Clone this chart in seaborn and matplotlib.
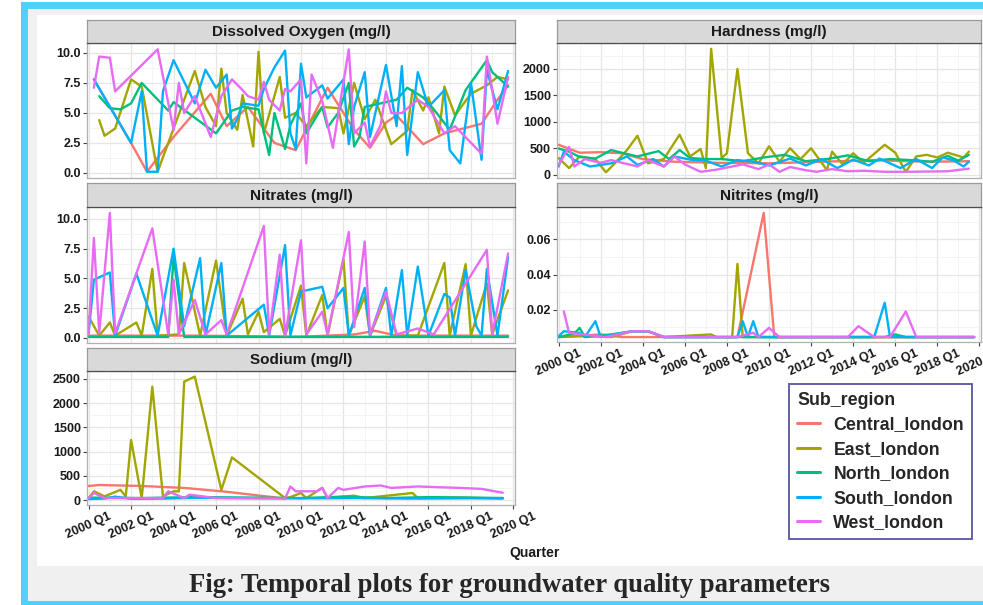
import pandas as pd
import matplotlib.pyplot as plt
from matplotlib.patches import Rectangle
from matplotlib.ticker import FormatStrFormatter
import seaborn as sns

# sub-regions and ggplot hue colours
regions = ["Central_london", "East_london", "North_london", "South_london", "West_london"]
colors = ["#F8766D", "#A3A500", "#00BF7D", "#00B0F6", "#E76BF3"]

# x axis: quarter index, 0 = 2000 Q1
quarter_ticks = [0, 8, 16, 24, 32, 40, 48, 56, 64, 72, 80]
quarter_labels = ["2000 Q1", "2002 Q1", "2004 Q1", "2006 Q1", "2008 Q1", "2010 Q1",
                  "2012 Q1", "2014 Q1", "2016 Q1", "2018 Q1", "2020 Q1"]

# Dissolved Oxygen (mg/l)
do_central_t = [1, 8, 11, 16, 23, 26, 30, 35, 39, 45, 50, 53, 56, 58, 63, 67, 74, 77, 79]
do_central = [7.8, 2.5, 0.1, 3.0, 6.6, 3.9, 5.5, 2.5, 1.9, 7.1, 3.6, 2.1, 4.2, 4.8, 2.4, 3.3, 4.1, 6.1, 7.3]
do_east_t = [2, 3, 5, 8, 10, 13, 20, 22, 24, 25, 26, 28, 29, 31, 32, 33, 36, 37, 39, 41,
             44, 47, 48, 50, 52, 54, 57, 60, 61, 63, 64, 66, 67, 69, 72, 75, 77, 79]
do_east = [4.4, 3.1, 3.7, 7.8, 7.2, 0.1, 8.5, 5.5, 3.9, 8.7, 5.0, 3.6, 6.5, 2.2, 10.1, 3.3, 8.0, 4.6, 5.0, 3.9,
           5.5, 5.4, 3.3, 7.5, 4.5, 6.1, 2.4, 3.5, 6.9, 5.2, 6.3, 3.3, 7.2, 4.8, 6.6, 7.3, 8.0, 7.8]
do_north_t = [2, 4, 6, 8, 10, 15, 16, 24, 27, 29, 32, 34, 35, 37, 38, 40, 41, 44, 45, 47,
              49, 50, 51, 52, 55, 58, 60, 63, 65, 68, 71, 75, 76, 79]
do_north = [6.4, 5.4, 5.3, 5.8, 7.5, 5.2, 5.9, 3.3, 5.2, 5.5, 5.3, 1.5, 5.0, 2.0, 4.0, 5.8, 3.3, 5.5, 3.8, 5.0,
            7.5, 2.2, 3.0, 5.5, 5.8, 6.1, 7.1, 6.3, 5.3, 3.6, 6.9, 9.4, 8.4, 7.2]
do_south_t = [1, 8, 10, 11, 13, 14, 16, 20, 22, 24, 26, 27, 28, 29, 32, 33, 35, 37, 38, 39,
              40, 41, 44, 45, 48, 49, 50, 52, 53, 56, 58, 59, 60, 62, 64, 67, 68, 70, 72, 74,
              75, 77, 79]
do_south = [7.8, 2.5, 6.8, 0.1, 0.1, 6.8, 9.4, 5.8, 8.6, 7.1, 8.2, 3.7, 4.5, 5.8, 5.6, 7.0, 8.8, 10.2, 3.3, 2.0,
            9.1, 6.3, 7.3, 6.2, 7.8, 2.4, 5.5, 8.4, 3.0, 9.0, 3.9, 8.9, 1.5, 8.4, 5.5, 6.9, 1.9, 0.8, 7.5, 1.1,
            8.6, 5.3, 8.5]
do_west_t = [1, 2, 4, 5, 13, 16, 17, 18, 20, 23, 25, 27, 29, 30, 32, 33, 34, 36, 37, 38,
             40, 41, 42, 44, 46, 49, 50, 52, 53, 55, 56, 57, 59, 62, 64, 67, 69, 74, 75, 77, 79]
do_west = [7.1, 9.7, 9.6, 6.8, 10.3, 3.6, 7.5, 5.0, 6.4, 3.0, 6.4, 7.8, 6.9, 6.4, 6.1, 7.6, 6.1, 5.2, 7.0, 6.8,
           7.8, 0.8, 8.2, 6.0, 2.1, 10.3, 3.3, 4.2, 2.2, 4.0, 6.8, 5.0, 5.0, 6.1, 5.5, 3.3, 3.9, 1.6, 9.7, 4.1, 8.0]

# Hardness (mg/l)
hard_central_t = [0, 4, 8, 12, 16, 22, 30, 40, 50, 60, 70, 78]
hard_central = [570, 420, 430, 410, 300, 250, 230, 220, 250, 280, 250, 260]
hard_east_t = [0, 2, 4, 7, 9, 11, 13, 15, 17, 20, 23, 25, 27, 28, 29, 31, 32, 34, 36, 38,
               40, 42, 44, 46, 48, 51, 52, 54, 56, 58, 62, 64, 66, 68, 70, 72, 74, 77, 78]
hard_east = [320, 130, 350, 300, 50, 250, 470, 740, 220, 300, 760, 350, 490, 130, 2380, 320, 410, 2000, 410, 220,
             540, 250, 505, 300, 505, 95, 440, 200, 410, 230, 570, 420, 60, 350, 380, 330, 420, 330, 440]
hard_north_t = [0, 2, 4, 7, 10, 12, 15, 19, 21, 23, 25, 28, 31, 35, 39, 43, 47, 51, 55, 59, 63, 67, 71, 74, 76, 78]
hard_north = [500, 440, 340, 310, 470, 420, 350, 450, 300, 470, 320, 300, 300, 260, 330, 380, 260, 300, 370, 260,
              300, 280, 250, 360, 270, 380]
hard_south_t = [0, 1, 3, 6, 10, 13, 15, 18, 20, 22, 25, 28, 31, 34, 37, 40, 44, 47, 50, 53,
                56, 59, 61, 65, 68, 71, 73, 75, 77, 78]
hard_south = [160, 440, 280, 160, 220, 350, 190, 300, 160, 350, 290, 270, 160, 280, 250, 180, 310, 180, 300, 130,
              290, 180, 310, 130, 300, 130, 330, 280, 160, 250]
hard_west_t = [0, 2, 3, 5, 8, 10, 15, 17, 20, 22, 24, 27, 30, 33, 35, 38, 40, 42, 44, 47,
               49, 52, 55, 58, 62, 66, 70, 74, 78]
hard_west = [190, 530, 160, 300, 230, 280, 160, 280, 160, 350, 200, 60, 100, 160, 200, 110, 200, 60, 150, 90,
             60, 110, 70, 80, 60, 60, 65, 70, 120]

# Nitrates (mg/l)
nit_central_t = [0, 20, 40, 50, 54, 58, 79]
nit_central = [0.2, 0.2, 0.1, 0.3, 0.6, 0.2, 0.2]
nit_east_t = [0, 2, 4, 5, 9, 10, 12, 13, 17, 18, 21, 24, 26, 29, 30, 32, 33, 36, 37, 40,
              41, 44, 45, 48, 49, 52, 53, 56, 58, 62, 67, 68, 71, 72, 75, 76, 79]
nit_east = [1.8, 0.2, 1.3, 0.2, 1.3, 0.2, 5.8, 0.2, 0.3, 6.3, 0.2, 6.5, 0.2, 3.3, 0.3, 2.2, 0.5, 1.6, 0.2, 4.4,
            0.2, 3.6, 0.2, 6.6, 0.2, 3.5, 0.2, 3.5, 0.2, 0.2, 6.3, 0.2, 6.2, 0.2, 4.6, 0.3, 4.0]
nit_north_t = [0, 15, 16, 18, 40, 79]
nit_north = [0.1, 0.1, 6.8, 0.1, 0.1, 0.1]
nit_south_t = [0, 1, 4, 5, 9, 13, 16, 18, 21, 22, 25, 26, 33, 34, 37, 38, 40, 44, 45, 48,
               49, 52, 53, 56, 57, 59, 60, 62, 64, 67, 68, 69, 71, 73, 74, 75, 77, 79]
nit_south = [0.4, 4.9, 5.5, 0.2, 5.4, 0.2, 7.5, 1.0, 6.7, 0.2, 6.3, 0.2, 2.8, 0.2, 7.8, 0.2, 3.9, 4.3, 2.5, 4.2,
             0.2, 4.2, 0.2, 4.2, 0.2, 5.7, 0.2, 6.0, 0.2, 3.7, 3.4, 0.2, 5.7, 1.0, 0.2, 5.8, 0.2, 6.8]
nit_west_t = [0, 1, 2, 4, 5, 12, 15, 16, 17, 20, 22, 25, 26, 33, 34, 36, 37, 40, 41, 44,
              45, 49, 50, 52, 53, 56, 58, 62, 65, 75, 76, 79]
nit_west = [0.4, 8.4, 0.4, 10.5, 0.4, 9.2, 0.3, 4.9, 0.3, 3.2, 0.3, 1.5, 0.3, 9.4, 0.3, 7.0, 0.2, 8.2, 0.3, 2.2,
            0.3, 8.9, 0.9, 8.1, 0.3, 3.9, 0.3, 0.8, 0.3, 7.4, 0.3, 7.1]

# Nitrites (mg/l)
nitr_central_t = [0, 8, 12, 20, 34, 39, 41, 79]
nitr_central = [0.0045, 0.006, 0.0045, 0.0045, 0.0045, 0.075, 0.0045, 0.0045]
nitr_east_t = [0, 5, 10, 14, 17, 20, 29, 30, 33, 34, 35, 79]
nitr_east = [0.0045, 0.005, 0.0045, 0.0078, 0.0078, 0.0045, 0.006, 0.0045, 0.0045, 0.046, 0.0045, 0.0045]
nitr_north_t = [0, 3, 4, 5, 10, 14, 17, 20, 62, 64, 66, 79]
nitr_north = [0.0045, 0.0065, 0.0097, 0.0045, 0.006, 0.0078, 0.0078, 0.0045, 0.0045, 0.006, 0.0045, 0.0045]
nitr_south_t = [0, 1, 4, 5, 7, 8, 14, 17, 20, 34, 35, 36, 37, 38, 60, 62, 63, 79]
nitr_south = [0.005, 0.0078, 0.0069, 0.0045, 0.0135, 0.0045, 0.0078, 0.0078, 0.0045, 0.0045, 0.0135, 0.0045,
              0.0135, 0.0045, 0.0045, 0.024, 0.0045, 0.0045]
nitr_west_t = [1, 2, 9, 14, 17, 20, 34, 37, 38, 40, 42, 55, 57, 60, 63, 66, 68, 79]
nitr_west = [0.019, 0.0069, 0.0045, 0.0078, 0.0078, 0.0045, 0.0045, 0.0069, 0.0045, 0.0097, 0.0045, 0.0045,
             0.0107, 0.0045, 0.0045, 0.019, 0.0045, 0.0045]

# Sodium (mg/l)
sod_central_t = [0, 2, 10, 18, 26, 37]
sod_central = [290, 310, 290, 250, 170, 30]
sod_east_t = [0, 1, 3, 6, 7, 8, 10, 12, 14, 16, 17, 18, 20, 25, 27, 37, 38, 40, 41, 44, 45, 50, 52, 61, 62, 70, 78]
sod_east = [40, 180, 75, 210, 75, 1240, 40, 2340, 75, 180, 180, 2445, 2550, 210, 880, 40, 60, 145, 40, 250,
            40, 90, 40, 145, 40, 50, 30]
sod_north_t = [0, 10, 20, 30, 40, 48, 56, 64, 72, 78]
sod_north = [50, 40, 60, 50, 40, 70, 40, 60, 50, 40]
sod_south_t = [0, 3, 5, 8, 14, 20, 30, 40, 50, 60, 70, 78]
sod_south = [20, 30, 70, 25, 30, 45, 40, 35, 40, 30, 35, 40]
sod_west_t = [0, 1, 3, 14, 15, 18, 19, 24, 37, 38, 39, 43, 44, 45, 47, 48, 52, 55, 57, 62, 67, 70, 74, 78]
sod_west = [40, 145, 40, 40, 180, 40, 110, 40, 30, 280, 180, 180, 250, 40, 250, 210, 280, 300, 250, 280,
            260, 250, 230, 150]

W, H = 983, 605


def box(x0, y0, x1, y1):
    # pixel box (top-left origin) -> figure fraction rect
    return [x0 / W, 1 - y1 / H, (x1 - x0) / W, (y1 - y0) / H]


def long_frame(series):
    rows = []
    for region, (t, v) in zip(regions, series):
        rows += [{"Quarter": q, "value": y, "Sub_region": region} for q, y in zip(t, v)]
    return pd.DataFrame(rows)


panels = [
    ("Dissolved Oxygen (mg/l)",
     [(do_central_t, do_central), (do_east_t, do_east), (do_north_t, do_north),
      (do_south_t, do_south), (do_west_t, do_west)],
     (87, 43, 515, 178), (-0.42, 10.83), [0, 2.5, 5, 7.5, 10], "%.1f", False),
    ("Hardness (mg/l)",
     [(hard_central_t, hard_central), (hard_east_t, hard_east), (hard_north_t, hard_north),
      (hard_south_t, hard_south), (hard_west_t, hard_west)],
     (557, 43, 981, 178), (-57, 2490), [0, 500, 1000, 1500, 2000], "%d", False),
    ("Nitrates (mg/l)",
     [(nit_central_t, nit_central), (nit_east_t, nit_east), (nit_north_t, nit_north),
      (nit_south_t, nit_south), (nit_west_t, nit_west)],
     (87, 207, 515, 343), (-0.42, 11.0), [0, 2.5, 5, 7.5, 10], "%.1f", False),
    ("Nitrites (mg/l)",
     [(nitr_central_t, nitr_central), (nitr_east_t, nitr_east), (nitr_north_t, nitr_north),
      (nitr_south_t, nitr_south), (nitr_west_t, nitr_west)],
     (557, 207, 981, 342), (0.0017, 0.0783), [0.02, 0.04, 0.06], "%.2f", True),
    ("Sodium (mg/l)",
     [(sod_central_t, sod_central), (sod_east_t, sod_east), (sod_north_t, sod_north),
      (sod_south_t, sod_south), (sod_west_t, sod_west)],
     (87, 371, 515, 505), (-103, 2665), [0, 500, 1000, 1500, 2000, 2500], "%d", True),
]

sns.set_theme(style="white")
plt.rcParams["font.family"] = ["Liberation Sans", "DejaVu Sans"]

fig = plt.figure(figsize=(W / 100, H / 100), dpi=100, facecolor="white")

# framed page background
blue = "#4fd0ff"
for (x0, y0, x1, y1), c in [((21, 2, 983, 605), blue), ((28, 9, 983, 601), "#f0f0f0"),
                            ((37, 15, 983, 566), "white")]:
    fig.add_artist(Rectangle((x0 / W, 1 - y1 / H), (x1 - x0) / W, (y1 - y0) / H,
                             transform=fig.transFigure, facecolor=c, edgecolor="none", zorder=-2))

legend_handles = None
for title, series, (x0, y0, x1, y1), ylim, yticks, fmt, show_x in panels:
    ax = fig.add_axes(box(x0, y0, x1, y1))
    df = long_frame(series)
    sns.lineplot(data=df, x="Quarter", y="value", hue="Sub_region", hue_order=regions,
                 palette=colors, estimator=None, linewidth=1.7, ax=ax, legend=True)
    if legend_handles is None:
        leg = ax.get_legend()
        legend_handles = leg.legend_handles
        legend_labels = [t.get_text() for t in leg.get_texts()]
    ax.get_legend().remove()

    ax.set_xlim(-0.3, 80.3)
    ax.set_xticks(quarter_ticks)
    ax.set_xticks([q + 4 for q in quarter_ticks[:-1]], minor=True)
    ax.set_yticks(yticks)
    step = yticks[1] - yticks[0]
    ax.set_yticks([yticks[0] - step / 2] + [y + step / 2 for y in yticks], minor=True)
    ax.set_ylim(*ylim)
    ax.yaxis.set_major_formatter(FormatStrFormatter(fmt))
    ax.grid(which="major", color="#e6e6e6", linewidth=0.9)
    ax.grid(which="minor", color="#f3f3f3", linewidth=0.6)
    ax.set_axisbelow(True)
    ax.set_xlabel("")
    ax.set_ylabel("")
    ax.set_facecolor("white")
    for s in ax.spines.values():
        s.set_color("#b0b0b0")
        s.set_linewidth(0.9)
    ax.tick_params(axis="y", which="major", left=True, length=3, width=0.8, color="#444444",
                   labelsize=9, labelcolor="#1a1a1a", pad=1.5)
    ax.tick_params(which="minor", length=0)
    for lab in ax.get_yticklabels():
        lab.set_fontweight("bold")
    if show_x:
        ax.tick_params(axis="x", which="major", bottom=True, length=3, width=0.8, color="#444444",
                       labelsize=9, labelcolor="#1a1a1a", pad=1)
        ax.set_xticklabels(quarter_labels, rotation=24, ha="center", fontweight="bold")
    else:
        ax.tick_params(axis="x", which="major", bottom=False, labelbottom=False)

    # facet strip
    sax = fig.add_axes(box(x0, y0 - 23.5, x1, y0))
    sax.set_facecolor("#d9d9d9")
    sax.set_xticks([])
    sax.set_yticks([])
    for s in sax.spines.values():
        s.set_color("#9a9a9a")
        s.set_linewidth(0.9)
    sax.spines["bottom"].set_color("#4d4d4d")
    sax.text(0.5, 0.47, title, transform=sax.transAxes, ha="center", va="center",
             fontsize=11, fontweight="bold", color="#1a1a1a")

fig.text(535 / W, 1 - 553 / H, "Quarter", ha="center", va="center", fontsize=10, fontweight="bold",
         color="#1a1a1a")

leg = fig.legend(legend_handles, legend_labels, title="Sub_region", loc="upper left",
                 bbox_to_anchor=(789 / W, 1 - 384 / H), borderaxespad=0, frameon=True, fancybox=False,
                 prop={"weight": "bold", "size": 12.8},
                 title_fontproperties={"weight": "bold", "size": 12.8},
                 handlelength=1.3, handletextpad=0.75, labelspacing=0.42, borderpad=0.45,
                 alignment="left", facecolor="white")
leg.get_frame().set_edgecolor("#2e2a86")
leg.get_frame().set_linewidth(1.3)
for h in leg.legend_handles:
    h.set_linewidth(2.2)

fig.text(509 / W, 1 - 585 / H, "Fig: Temporal plots for groundwater quality parameters",
         ha="center", va="center", family="Liberation Serif", fontweight="bold", fontsize=19.2)

fig.savefig("out.png", dpi=100)
